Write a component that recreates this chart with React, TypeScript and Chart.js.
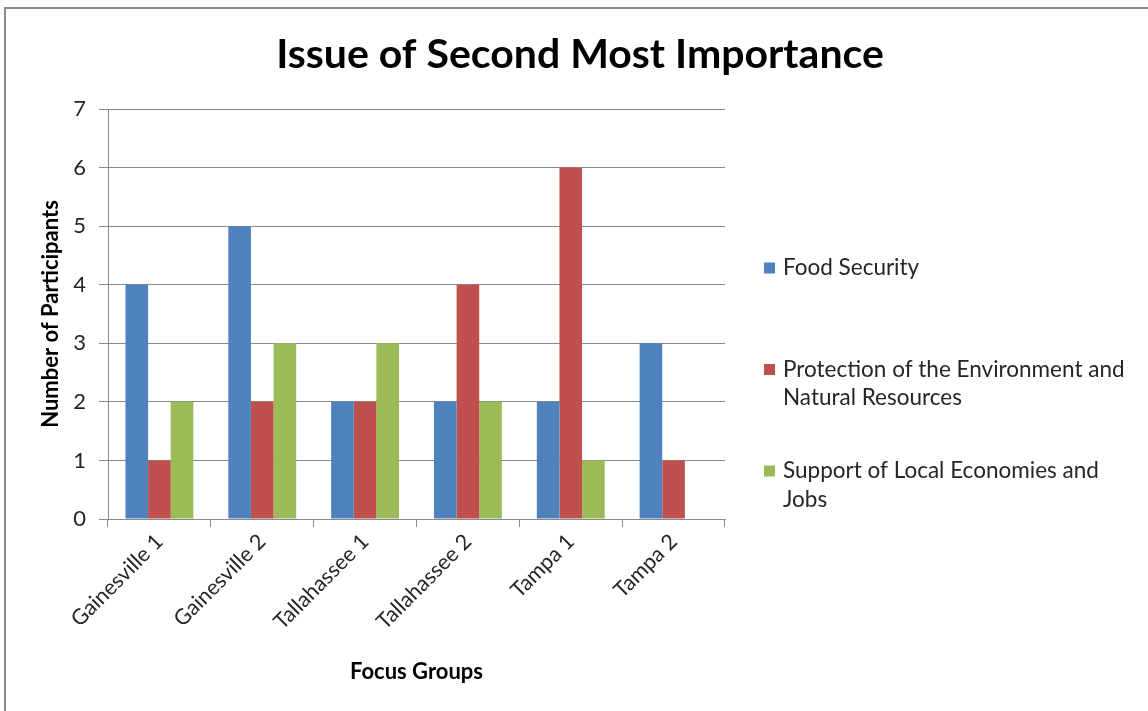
import React, { useEffect, useRef } from "react";
import { Chart, registerables } from "chart.js";

Chart.register(...registerables);

// Focus groups on the x axis
const focusGroups = ["Gainesville 1", "Gainesville 2", "Tallahassee 1", "Tallahassee 2", "Tampa 1", "Tampa 2"];

// Participants per focus group, one array per issue
const foodSecurity = [4, 5, 2, 2, 2, 3];
const environmentProtection = [1, 2, 2, 4, 6, 1];
const localEconomies = [2, 3, 3, 2, 1, 0];

// Legend text, already broken into the lines shown beside the chart
const foodSecurityLines = ["Food Security"];
const environmentLines = ["Protection of the Environment and", "Natural Resources"];
const economiesLines = ["Support of Local Economies and", "Jobs"];

const seriesColors = ["#4F81BD", "#C0504D", "#9BBB59"];

const yTicks = [0, 1, 2, 3, 4, 5, 6, 7];

const FONT = "Lato, 'Open Sans', sans-serif";
const TEXT = "#262626";
const LINE = "#8a8a8a";

// Right-hand legend with wrapped labels, drawn after the chart
const wrappedLegend = {
  id: "wrappedLegend",
  afterDraw(chart: any) {
    const ctx = chart.ctx;
    const x0 = chart.chartArea.right + 39;
    const textX = x0 + 19;
    const lineGap = 28.5;
    const itemTops = [268, 369.5, 471];
    ctx.save();
    ctx.font = `22.5px ${FONT}`;
    ctx.textBaseline = "middle";
    ctx.textAlign = "left";
    chart.data.datasets.forEach((ds: any, i: number) => {
      const y = itemTops[i];
      ctx.fillStyle = ds.backgroundColor;
      ctx.fillRect(x0, y - 5.5, 11, 11);
      ctx.fillStyle = TEXT;
      (ds.legendLines as string[]).forEach((line, j) => {
        ctx.fillText(line, textX, y + j * lineGap);
      });
    });
    ctx.restore();
  },
};

export default function App() {
  const canvasRef = useRef<HTMLCanvasElement | null>(null);

  useEffect(() => {
    if (!canvasRef.current) return;
    const chart = new Chart(canvasRef.current, {
      type: "bar",
      data: {
        labels: focusGroups,
        datasets: [
          { label: foodSecurityLines.join(" "), legendLines: foodSecurityLines, data: foodSecurity, backgroundColor: seriesColors[0] },
          { label: environmentLines.join(" "), legendLines: environmentLines, data: environmentProtection, backgroundColor: seriesColors[1] },
          { label: economiesLines.join(" "), legendLines: economiesLines, data: localEconomies, backgroundColor: seriesColors[2] },
        ] as any,
      },
      options: {
        animation: false,
        responsive: false,
        devicePixelRatio: 1,
        datasets: { bar: { categoryPercentage: 0.66, barPercentage: 1 } },
        layout: { padding: { left: 12, top: 0, right: 0, bottom: 0 } },
        plugins: {
          legend: { display: false },
          tooltip: { enabled: false },
          title: {
            display: true,
            text: "Issue of Second Most Importance",
            color: "#000",
            font: { family: FONT, size: 41, weight: "bold", lineHeight: 1.2 },
            padding: { top: 30.5, bottom: 29.3 },
          },
        },
        scales: {
          x: {
            grid: { drawOnChartArea: false, drawTicks: true, tickLength: 8, color: LINE, offset: true },
            border: { color: LINE, width: 1 },
            ticks: {
              color: TEXT,
              font: { family: FONT, size: 21.5 },
              minRotation: 45,
              maxRotation: 45,
              padding: 2,
            },
            title: {
              display: true,
              text: "Focus Groups",
              color: "#000",
              font: { family: FONT, size: 22, weight: "bold", lineHeight: 1.2 },
              padding: { top: 0, bottom: 26 },
            },
            afterFit: (s: any) => {
              s.height = 192;
            },
          },
          y: {
            min: 0,
            max: 7,
            afterBuildTicks: (s: any) => {
              s.ticks = yTicks.map((v) => ({ value: v }));
            },
            grid: { color: LINE, tickLength: 9 },
            border: { color: LINE, width: 1 },
            ticks: { color: TEXT, font: { family: FONT, size: 22 }, padding: 13 },
            title: {
              display: true,
              text: "Number of Participants",
              color: "#000",
              font: { family: FONT, size: 22, weight: "bold", lineHeight: 1.2 },
              padding: { top: 26, bottom: 0 },
            },
            afterFit: (s: any) => {
              s.width = 96;
            },
          },
          legendSpace: {
            type: "linear",
            position: "right",
            display: true,
            grid: { display: false },
            border: { display: false },
            ticks: { display: false },
            afterFit: (s: any) => {
              s.width = 423;
            },
          },
        } as any,
      },
      plugins: [wrappedLegend],
    });
    return () => chart.destroy();
  }, []);

  return (
    <div style={{ position: "absolute", left: 0, top: 0, width: 1148, height: 711, background: "#fff", overflow: "hidden" }}>
      <div
        style={{
          position: "absolute",
          left: 4,
          top: 7,
          width: 1200,
          height: 760,
          borderTop: "2px solid #8a8a8a",
          borderLeft: "2px solid #8a8a8a",
        }}
      />
      <canvas ref={canvasRef} width={1148} height={711} style={{ position: "absolute", left: 0, top: 0 }} />
    </div>
  );
}
